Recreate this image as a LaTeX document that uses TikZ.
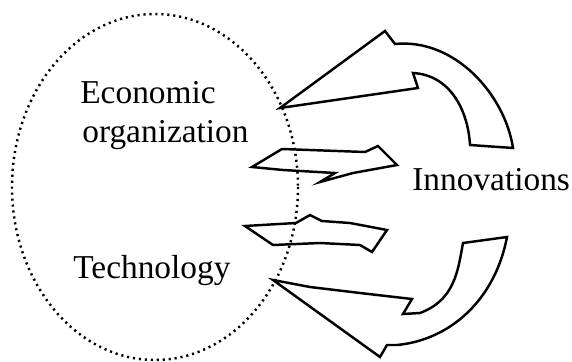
\documentclass[tikz,border=0pt]{standalone}
\usepackage{fontspec}
\setmainfont{Liberation Serif}
\usetikzlibrary{positioning, calc}

\begin{document}
\begin{tikzpicture}[x=0.02cm, y=-0.02cm,
    ring/.style={line width=1.4pt, dash pattern=on 1.2pt off 2.2pt},
    blockarrow/.style={line width=1.4pt, line join=miter},
    lbl/.style={anchor=base west, inner sep=0pt, font=\fontsize{19}{22}\selectfont}]

    \useasboundingbox (0,0) rectangle (572,362);

    % -------------------------------------------------------------
    % The dotted ring and what sits inside it
    % -------------------------------------------------------------
    \draw[ring] (155,187) ellipse [x radius=143, y radius=173];

    \node[lbl] (econ) at (80,103) {Economic};
    \node[lbl] (orga) at (82,142) {organization};
    \node[lbl] (tech) at (73,278) {Technology};

    % -------------------------------------------------------------
    % Innovations on the right
    % -------------------------------------------------------------
    \node[lbl] (innov) at (412,190) {Innovations};

    % -------------------------------------------------------------
    % Top curved arrow (back into the ring)
    % -------------------------------------------------------------
    \draw[blockarrow] (280,108) -- (385,31) -- (395,44)
        .. controls (455,38) and (505,95) .. (513,148)
        -- (470,145)
        .. controls (468,110) and (450,75) .. (413,73)
        -- (418,88) -- cycle;

    % -------------------------------------------------------------
    % The two straight arrows across the ring's edge
    % -------------------------------------------------------------
    \draw[blockarrow] (252,167) -- (282,149) -- (365,152) -- (378,146)
        -- (397,165) -- (353,173) -- (320,182) -- (335,173)
        -- (283,170) -- cycle;

    \draw[blockarrow] (245,226) -- (296,223) -- (310,215) -- (322,221)
        -- (350,223) -- (387,230) -- (372,252) -- (360,245)
        -- (320,243) -- (273,245) -- cycle;

    % -------------------------------------------------------------
    % Bottom curved arrow
    % -------------------------------------------------------------
    \draw[blockarrow] (273,280) -- (310,287) -- (360,293) -- (412,299)
        -- (403,314) -- (420,313)
        .. controls (455,300) and (458,270) .. (463,243)
        -- (507,237)
        .. controls (495,300) and (450,340) .. (397,345)
        -- (387,345) -- (380,357) -- cycle;

\end{tikzpicture}
\end{document}
